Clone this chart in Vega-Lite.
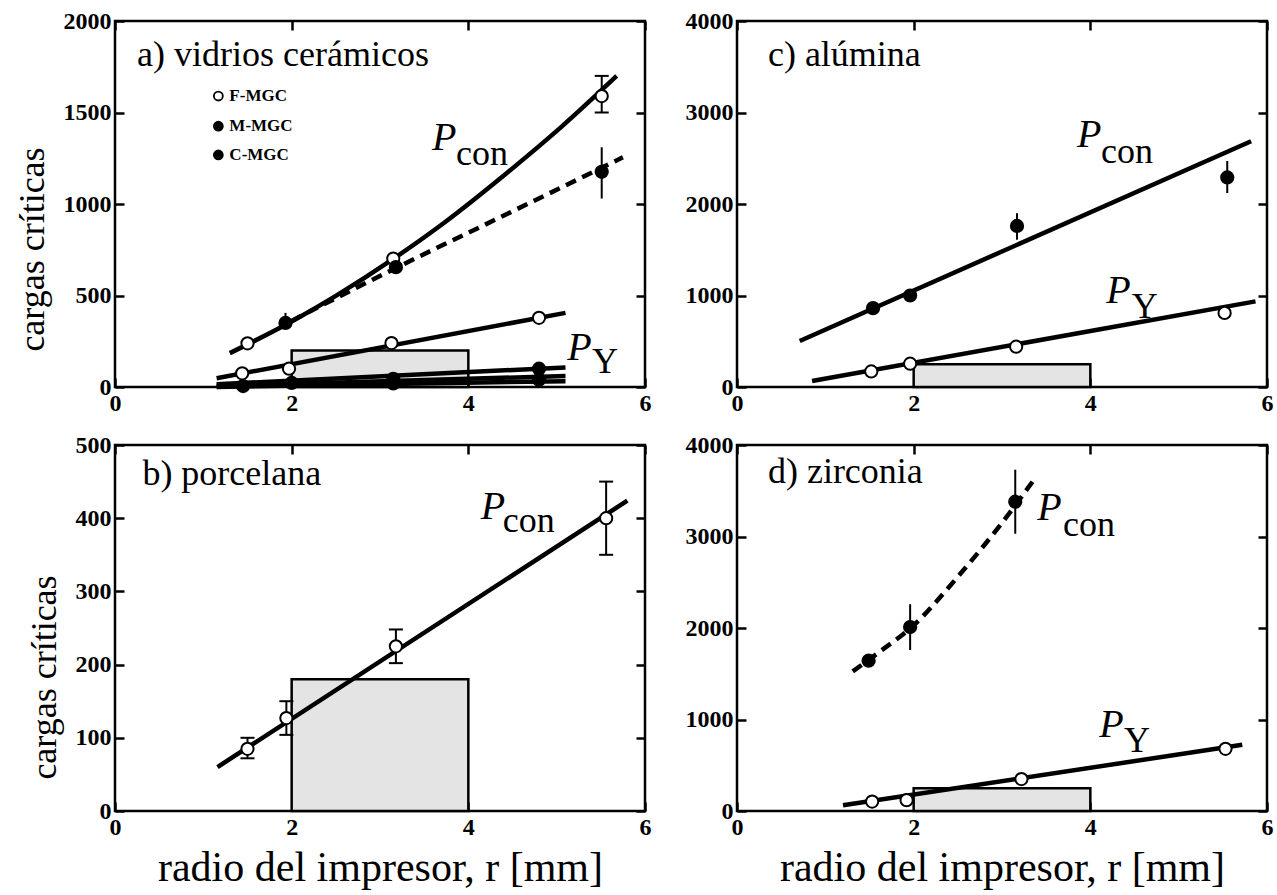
{
  "$schema": "https://vega.github.io/schema/vega-lite/v6.json",
  "background": "white",
  "padding": {"left": 12, "top": 7, "right": 3, "bottom": 3},
  "config": {
    "font": "Liberation Serif",
    "view": {"stroke": "black", "strokeWidth": 2.5},
    "axis": {
      "domain": false,
      "grid": false,
      "ticks": true,
      "tickColor": "black",
      "tickWidth": 2.5,
      "tickSize": -9,
      "labelFont": "Liberation Serif",
      "labelFontWeight": "bold",
      "labelFontSize": 24,
      "labelColor": "black",
      "labelFlush": false,
      "labelPadding": 13,
      "titleFont": "Liberation Serif",
      "titleFontWeight": "normal",
      "titleFontSize": 36,
      "titleColor": "black"
    }
  },
  "datasets": {
    "cajas": [
      {"panel": "a", "r1": 2, "r2": 4, "p1": 0, "p2": 200},
      {"panel": "b", "r1": 2, "r2": 4, "p1": 0, "p2": 180},
      {"panel": "c", "r1": 2, "r2": 4, "p1": 0, "p2": 250},
      {"panel": "d", "r1": 2, "r2": 4, "p1": 0, "p2": 250}
    ],
    "ajustes": [
      {"panel": "a", "serie": "a1", "r": 1.3, "P": 185},
      {"panel": "a", "serie": "a1", "r": 2.0, "P": 358},
      {"panel": "a", "serie": "a1", "r": 2.5, "P": 498},
      {"panel": "a", "serie": "a1", "r": 3.15, "P": 700},
      {"panel": "a", "serie": "a1", "r": 3.7, "P": 888},
      {"panel": "a", "serie": "a1", "r": 4.45, "P": 1175},
      {"panel": "a", "serie": "a1", "r": 5.05, "P": 1420},
      {"panel": "a", "serie": "a1", "r": 5.68, "P": 1700},
      {"panel": "a", "serie": "a2", "r": 2.0, "P": 362},
      {"panel": "a", "serie": "a2", "r": 3.2, "P": 655},
      {"panel": "a", "serie": "a2", "r": 4.5, "P": 960},
      {"panel": "a", "serie": "a2", "r": 5.75, "P": 1255},
      {"panel": "a", "serie": "a3", "r": 1.15, "P": 48},
      {"panel": "a", "serie": "a3", "r": 5.1, "P": 405},
      {"panel": "a", "serie": "a4", "r": 1.15, "P": 15},
      {"panel": "a", "serie": "a4", "r": 5.1, "P": 107},
      {"panel": "a", "serie": "a5", "r": 1.15, "P": 5},
      {"panel": "a", "serie": "a5", "r": 5.1, "P": 60},
      {"panel": "a", "serie": "a6", "r": 1.15, "P": 0},
      {"panel": "a", "serie": "a6", "r": 5.1, "P": 32},
      {"panel": "b", "serie": "b1", "r": 1.16, "P": 60},
      {"panel": "b", "serie": "b1", "r": 5.8, "P": 424},
      {"panel": "c", "serie": "c1", "r": 0.71, "P": 503},
      {"panel": "c", "serie": "c1", "r": 5.82, "P": 2686},
      {"panel": "c", "serie": "c2", "r": 0.85, "P": 66},
      {"panel": "c", "serie": "c2", "r": 5.87, "P": 936},
      {"panel": "d", "serie": "d1", "r": 1.31, "P": 1526},
      {"panel": "d", "serie": "d1", "r": 1.6, "P": 1730},
      {"panel": "d", "serie": "d1", "r": 2.0, "P": 2030},
      {"panel": "d", "serie": "d1", "r": 2.5, "P": 2560},
      {"panel": "d", "serie": "d1", "r": 3.0, "P": 3150},
      {"panel": "d", "serie": "d1", "r": 3.39, "P": 3658},
      {"panel": "d", "serie": "d2", "r": 1.2, "P": 62},
      {"panel": "d", "serie": "d2", "r": 5.72, "P": 724}
    ],
    "medidas": [
      {"panel": "a", "marca": "abierto", "r": 1.5, "P": 239},
      {"panel": "a", "marca": "abierto", "r": 3.15, "P": 702},
      {"panel": "a", "marca": "abierto", "r": 5.51, "P": 1590, "lo": 1500, "hi": 1700, "tapa": true},
      {"panel": "a", "marca": "lleno", "r": 1.45, "P": 5},
      {"panel": "a", "marca": "lleno", "r": 2.0, "P": 22},
      {"panel": "a", "marca": "lleno", "r": 3.15, "P": 45},
      {"panel": "a", "marca": "lleno", "r": 3.15, "P": 20},
      {"panel": "a", "marca": "lleno", "r": 4.8, "P": 100},
      {"panel": "a", "marca": "lleno", "r": 4.8, "P": 40},
      {"panel": "a", "marca": "abierto", "r": 1.44, "P": 75},
      {"panel": "a", "marca": "abierto", "r": 1.97, "P": 100},
      {"panel": "a", "marca": "abierto", "r": 3.13, "P": 240},
      {"panel": "a", "marca": "abierto", "r": 4.8, "P": 378},
      {"panel": "a", "marca": "lleno", "r": 1.93, "P": 350, "lo": 325, "hi": 405},
      {"panel": "a", "marca": "lleno", "r": 3.18, "P": 655},
      {"panel": "a", "marca": "lleno", "r": 5.51, "P": 1176, "lo": 1030, "hi": 1310},
      {"panel": "b", "marca": "abierto", "r": 1.5, "P": 85, "lo": 72, "hi": 100, "tapa": true},
      {"panel": "b", "marca": "abierto", "r": 1.94, "P": 127, "lo": 104, "hi": 150, "tapa": true},
      {"panel": "b", "marca": "abierto", "r": 3.18, "P": 225, "lo": 202, "hi": 248, "tapa": true},
      {"panel": "b", "marca": "abierto", "r": 5.56, "P": 400, "lo": 350, "hi": 450, "tapa": true},
      {"panel": "c", "marca": "lleno", "r": 1.54, "P": 862},
      {"panel": "c", "marca": "lleno", "r": 1.96, "P": 1000},
      {"panel": "c", "marca": "lleno", "r": 3.17, "P": 1760, "lo": 1610, "hi": 1900},
      {"panel": "c", "marca": "lleno", "r": 5.55, "P": 2290, "lo": 2120, "hi": 2470},
      {"panel": "c", "marca": "abierto", "r": 1.52, "P": 170},
      {"panel": "c", "marca": "abierto", "r": 1.96, "P": 255},
      {"panel": "c", "marca": "abierto", "r": 3.16, "P": 440},
      {"panel": "c", "marca": "abierto", "r": 5.52, "P": 810},
      {"panel": "d", "marca": "lleno", "r": 1.49, "P": 1643},
      {"panel": "d", "marca": "lleno", "r": 1.96, "P": 2010, "lo": 1760, "hi": 2260},
      {"panel": "d", "marca": "lleno", "r": 3.15, "P": 3380, "lo": 3030, "hi": 3730},
      {"panel": "d", "marca": "abierto", "r": 1.53, "P": 103},
      {"panel": "d", "marca": "abierto", "r": 1.92, "P": 118},
      {"panel": "d", "marca": "abierto", "r": 3.22, "P": 349},
      {"panel": "d", "marca": "abierto", "r": 5.53, "P": 680}
    ],
    "etiquetas": [
      {"panel": "a", "parte": "P", "texto": "P", "r": 3.59, "P": 1296},
      {"panel": "a", "parte": "sub", "texto": "con", "r": 3.86, "P": 1213},
      {"panel": "a", "parte": "P", "texto": "P", "r": 5.12, "P": 147},
      {"panel": "a", "parte": "sub", "texto": "Y", "r": 5.4, "P": 74},
      {"panel": "b", "parte": "P", "texto": "P", "r": 4.14, "P": 399},
      {"panel": "b", "parte": "sub", "texto": "con", "r": 4.39, "P": 381},
      {"panel": "c", "parte": "P", "texto": "P", "r": 3.85, "P": 2620},
      {"panel": "c", "parte": "sub", "texto": "con", "r": 4.12, "P": 2450},
      {"panel": "c", "parte": "P", "texto": "P", "r": 4.18, "P": 917},
      {"panel": "c", "parte": "sub", "texto": "Y", "r": 4.47, "P": 752},
      {"panel": "d", "parte": "P", "texto": "P", "r": 3.4, "P": 3180},
      {"panel": "d", "parte": "sub", "texto": "con", "r": 3.69, "P": 3004},
      {"panel": "d", "parte": "P", "texto": "P", "r": 4.1, "P": 809},
      {"panel": "d", "parte": "sub", "texto": "Y", "r": 4.38, "P": 643}
    ],
    "titulos": [
      {"panel": "a", "texto": "a) vidrios cerámicos", "r": 0.25, "P": 1755},
      {"panel": "b", "texto": "b) porcelana", "r": 0.31, "P": 445},
      {"panel": "c", "texto": "c) alúmina", "r": 0.35, "P": 3505},
      {"panel": "d", "texto": "d) zirconia", "r": 0.35, "P": 3585}
    ],
    "leyenda": [
      {"texto": "F-MGC", "marca": "abierto", "r": 1.17, "P": 1590},
      {"texto": "M-MGC", "marca": "lleno", "r": 1.17, "P": 1425},
      {"texto": "C-MGC", "marca": "lleno", "r": 1.17, "P": 1268}
    ]
  },
  "columns": 2,
  "spacing": {"row": 58, "column": 92},
  "bounds": "flush",
  "concat": [
    {
      "width": 530,
      "height": 366,
      "resolve": {"axis": {"x": "independent", "y": "independent"}},
      "layer": [
        {
          "data": {"name": "cajas"},
          "transform": [{"filter": "datum.panel === 'a'"}],
          "mark": {"type": "rect", "fill": "#e4e4e4", "stroke": "black", "strokeWidth": 2.5},
          "encoding": {
            "x": {"field": "r1", "type": "quantitative", "scale": {"domain": [0, 6], "nice": false}, "axis": {"orient": "bottom", "values": [0, 2, 4, 6], "title": null}},
            "x2": {"field": "r2"},
            "y": {"field": "p1", "type": "quantitative", "scale": {"domain": [0, 2000], "nice": false}, "axis": {"orient": "left", "values": [0, 500, 1000, 1500, 2000], "format": "d", "title": "cargas críticas", "titlePadding": 12, "titleY": 228}},
            "y2": {"field": "p2"}
          }
        },
        {
          "data": {"name": "ajustes"},
          "transform": [{"filter": "datum.panel === 'a' && datum.serie !== 'a2'"}],
          "mark": {"type": "line", "stroke": "black", "strokeWidth": 4.5, "interpolate": "monotone"},
          "encoding": {
            "x": {"field": "r", "type": "quantitative", "axis": {"orient": "top", "values": [0, 2, 4, 6], "labels": false, "title": null}},
            "y": {"field": "P", "type": "quantitative", "axis": {"orient": "right", "values": [0, 500, 1000, 1500, 2000], "labels": false, "title": null}},
            "detail": {"field": "serie"}
          }
        },
        {
          "data": {"name": "ajustes"},
          "transform": [{"filter": "datum.serie === 'a2'"}],
          "mark": {"type": "line", "stroke": "black", "strokeWidth": 4.5, "strokeDash": [11, 7], "interpolate": "monotone"},
          "encoding": {
            "x": {"field": "r", "type": "quantitative", "axis": null},
            "y": {"field": "P", "type": "quantitative", "axis": null},
            "detail": {"field": "serie"}
          }
        },
        {
          "data": {"name": "medidas"},
          "transform": [{"filter": "datum.panel === 'a' && isValid(datum.lo)"}],
          "mark": {"type": "rule", "stroke": "black", "strokeWidth": 2},
          "encoding": {
            "x": {"field": "r", "type": "quantitative", "axis": null},
            "y": {"field": "lo", "type": "quantitative", "axis": null},
            "y2": {"field": "hi"}
          }
        },
        {
          "data": {"name": "medidas"},
          "transform": [{"filter": "datum.panel === 'a' && datum.tapa === true"}, {"fold": ["lo", "hi"], "as": ["extremo", "valor"]}],
          "mark": {"type": "tick", "orient": "horizontal", "color": "black", "size": 14, "thickness": 2, "opacity": 1},
          "encoding": {
            "x": {"field": "r", "type": "quantitative", "axis": null},
            "y": {"field": "valor", "type": "quantitative", "axis": null}
          }
        },
        {
          "data": {"name": "medidas"},
          "transform": [{"filter": "datum.panel === 'a'"}],
          "mark": {"type": "point", "shape": "circle", "filled": true, "size": 150, "stroke": "black", "strokeWidth": 2, "opacity": 1},
          "encoding": {
            "x": {"field": "r", "type": "quantitative", "axis": null},
            "y": {"field": "P", "type": "quantitative", "axis": null},
            "fill": {"field": "marca", "type": "nominal", "scale": {"domain": ["abierto", "lleno"], "range": ["white", "black"]}, "legend": null}
          }
        },
        {
          "data": {"name": "leyenda"},
          "mark": {"type": "point", "shape": "circle", "filled": true, "size": 80, "stroke": "black", "strokeWidth": 1.8, "opacity": 1},
          "encoding": {
            "x": {"field": "r", "type": "quantitative", "axis": null},
            "y": {"field": "P", "type": "quantitative", "axis": null},
            "fill": {"field": "marca", "type": "nominal", "legend": null}
          }
        },
        {
          "data": {"name": "leyenda"},
          "mark": {"type": "text", "font": "Liberation Serif", "fontWeight": "bold", "fontSize": 17, "align": "left", "baseline": "middle", "dx": 11, "color": "black"},
          "encoding": {
            "x": {"field": "r", "type": "quantitative", "axis": null},
            "y": {"field": "P", "type": "quantitative", "axis": null},
            "text": {"field": "texto"}
          }
        },
        {
          "data": {"name": "titulos"},
          "transform": [{"filter": "datum.panel === 'a'"}],
          "mark": {"type": "text", "font": "Liberation Serif", "fontSize": 36, "align": "left", "baseline": "alphabetic", "color": "black"},
          "encoding": {
            "x": {"field": "r", "type": "quantitative", "axis": null},
            "y": {"field": "P", "type": "quantitative", "axis": null},
            "text": {"field": "texto"}
          }
        },
        {
          "data": {"name": "etiquetas"},
          "transform": [{"filter": "datum.panel === 'a' && datum.parte === 'P'"}],
          "mark": {"type": "text", "font": "Liberation Serif", "fontStyle": "italic", "fontSize": 40, "align": "left", "baseline": "alphabetic", "color": "black"},
          "encoding": {
            "x": {"field": "r", "type": "quantitative", "axis": null},
            "y": {"field": "P", "type": "quantitative", "axis": null},
            "text": {"field": "texto"}
          }
        },
        {
          "data": {"name": "etiquetas"},
          "transform": [{"filter": "datum.panel === 'a' && datum.parte === 'sub'"}],
          "mark": {"type": "text", "font": "Liberation Serif", "fontSize": 36, "align": "left", "baseline": "alphabetic", "color": "black"},
          "encoding": {
            "x": {"field": "r", "type": "quantitative", "axis": null},
            "y": {"field": "P", "type": "quantitative", "axis": null},
            "text": {"field": "texto"}
          }
        }
      ]
    },
    {
      "width": 530,
      "height": 366,
      "resolve": {"axis": {"x": "independent", "y": "independent"}},
      "layer": [
        {
          "data": {"name": "cajas"},
          "transform": [{"filter": "datum.panel === 'c'"}],
          "mark": {"type": "rect", "fill": "#e4e4e4", "stroke": "black", "strokeWidth": 2.5},
          "encoding": {
            "x": {"field": "r1", "type": "quantitative", "scale": {"domain": [0, 6], "nice": false}, "axis": {"orient": "bottom", "values": [0, 2, 4, 6], "title": null}},
            "x2": {"field": "r2"},
            "y": {"field": "p1", "type": "quantitative", "scale": {"domain": [0, 4000], "nice": false}, "axis": {"orient": "left", "values": [0, 1000, 2000, 3000, 4000], "format": "d", "title": null}},
            "y2": {"field": "p2"}
          }
        },
        {
          "data": {"name": "ajustes"},
          "transform": [{"filter": "datum.panel === 'c'"}],
          "mark": {"type": "line", "stroke": "black", "strokeWidth": 4.5},
          "encoding": {
            "x": {"field": "r", "type": "quantitative", "axis": {"orient": "top", "values": [0, 2, 4, 6], "labels": false, "title": null}},
            "y": {"field": "P", "type": "quantitative", "axis": {"orient": "right", "values": [0, 1000, 2000, 3000, 4000], "labels": false, "title": null}},
            "detail": {"field": "serie"}
          }
        },
        {
          "data": {"name": "medidas"},
          "transform": [{"filter": "datum.panel === 'c' && isValid(datum.lo)"}],
          "mark": {"type": "rule", "stroke": "black", "strokeWidth": 2},
          "encoding": {
            "x": {"field": "r", "type": "quantitative", "axis": null},
            "y": {"field": "lo", "type": "quantitative", "axis": null},
            "y2": {"field": "hi"}
          }
        },
        {
          "data": {"name": "medidas"},
          "transform": [{"filter": "datum.panel === 'c'"}],
          "mark": {"type": "point", "shape": "circle", "filled": true, "size": 150, "stroke": "black", "strokeWidth": 2, "opacity": 1},
          "encoding": {
            "x": {"field": "r", "type": "quantitative", "axis": null},
            "y": {"field": "P", "type": "quantitative", "axis": null},
            "fill": {"field": "marca", "type": "nominal", "legend": null}
          }
        },
        {
          "data": {"name": "titulos"},
          "transform": [{"filter": "datum.panel === 'c'"}],
          "mark": {"type": "text", "font": "Liberation Serif", "fontSize": 36, "align": "left", "baseline": "alphabetic", "color": "black"},
          "encoding": {
            "x": {"field": "r", "type": "quantitative", "axis": null},
            "y": {"field": "P", "type": "quantitative", "axis": null},
            "text": {"field": "texto"}
          }
        },
        {
          "data": {"name": "etiquetas"},
          "transform": [{"filter": "datum.panel === 'c' && datum.parte === 'P'"}],
          "mark": {"type": "text", "font": "Liberation Serif", "fontStyle": "italic", "fontSize": 40, "align": "left", "baseline": "alphabetic", "color": "black"},
          "encoding": {
            "x": {"field": "r", "type": "quantitative", "axis": null},
            "y": {"field": "P", "type": "quantitative", "axis": null},
            "text": {"field": "texto"}
          }
        },
        {
          "data": {"name": "etiquetas"},
          "transform": [{"filter": "datum.panel === 'c' && datum.parte === 'sub'"}],
          "mark": {"type": "text", "font": "Liberation Serif", "fontSize": 36, "align": "left", "baseline": "alphabetic", "color": "black"},
          "encoding": {
            "x": {"field": "r", "type": "quantitative", "axis": null},
            "y": {"field": "P", "type": "quantitative", "axis": null},
            "text": {"field": "texto"}
          }
        }
      ]
    },
    {
      "width": 530,
      "height": 366,
      "resolve": {"axis": {"x": "independent", "y": "independent"}},
      "layer": [
        {
          "data": {"name": "cajas"},
          "transform": [{"filter": "datum.panel === 'b'"}],
          "mark": {"type": "rect", "fill": "#e4e4e4", "stroke": "black", "strokeWidth": 2.5},
          "encoding": {
            "x": {"field": "r1", "type": "quantitative", "scale": {"domain": [0, 6], "nice": false}, "axis": {"orient": "bottom", "values": [0, 2, 4, 6], "title": "radio del impresor, r [mm]", "titlePadding": 8, "titleFontSize": 42}},
            "x2": {"field": "r2"},
            "y": {"field": "p1", "type": "quantitative", "scale": {"domain": [0, 500], "nice": false}, "axis": {"orient": "left", "values": [0, 100, 200, 300, 400, 500], "format": "d", "title": "cargas críticas", "titlePadding": 12, "titleY": 232}},
            "y2": {"field": "p2"}
          }
        },
        {
          "data": {"name": "ajustes"},
          "transform": [{"filter": "datum.panel === 'b'"}],
          "mark": {"type": "line", "stroke": "black", "strokeWidth": 4.5},
          "encoding": {
            "x": {"field": "r", "type": "quantitative", "axis": {"orient": "top", "values": [0, 2, 4, 6], "labels": false, "title": null}},
            "y": {"field": "P", "type": "quantitative", "axis": {"orient": "right", "values": [0, 100, 200, 300, 400, 500], "labels": false, "title": null}},
            "detail": {"field": "serie"}
          }
        },
        {
          "data": {"name": "medidas"},
          "transform": [{"filter": "datum.panel === 'b' && isValid(datum.lo)"}],
          "mark": {"type": "rule", "stroke": "black", "strokeWidth": 2},
          "encoding": {
            "x": {"field": "r", "type": "quantitative", "axis": null},
            "y": {"field": "lo", "type": "quantitative", "axis": null},
            "y2": {"field": "hi"}
          }
        },
        {
          "data": {"name": "medidas"},
          "transform": [{"filter": "datum.panel === 'b' && datum.tapa === true"}, {"fold": ["lo", "hi"], "as": ["extremo", "valor"]}],
          "mark": {"type": "tick", "orient": "horizontal", "color": "black", "size": 14, "thickness": 2, "opacity": 1},
          "encoding": {
            "x": {"field": "r", "type": "quantitative", "axis": null},
            "y": {"field": "valor", "type": "quantitative", "axis": null}
          }
        },
        {
          "data": {"name": "medidas"},
          "transform": [{"filter": "datum.panel === 'b'"}],
          "mark": {"type": "point", "shape": "circle", "filled": true, "size": 150, "stroke": "black", "strokeWidth": 2, "opacity": 1},
          "encoding": {
            "x": {"field": "r", "type": "quantitative", "axis": null},
            "y": {"field": "P", "type": "quantitative", "axis": null},
            "fill": {"field": "marca", "type": "nominal", "legend": null}
          }
        },
        {
          "data": {"name": "titulos"},
          "transform": [{"filter": "datum.panel === 'b'"}],
          "mark": {"type": "text", "font": "Liberation Serif", "fontSize": 36, "align": "left", "baseline": "alphabetic", "color": "black"},
          "encoding": {
            "x": {"field": "r", "type": "quantitative", "axis": null},
            "y": {"field": "P", "type": "quantitative", "axis": null},
            "text": {"field": "texto"}
          }
        },
        {
          "data": {"name": "etiquetas"},
          "transform": [{"filter": "datum.panel === 'b' && datum.parte === 'P'"}],
          "mark": {"type": "text", "font": "Liberation Serif", "fontStyle": "italic", "fontSize": 40, "align": "left", "baseline": "alphabetic", "color": "black"},
          "encoding": {
            "x": {"field": "r", "type": "quantitative", "axis": null},
            "y": {"field": "P", "type": "quantitative", "axis": null},
            "text": {"field": "texto"}
          }
        },
        {
          "data": {"name": "etiquetas"},
          "transform": [{"filter": "datum.panel === 'b' && datum.parte === 'sub'"}],
          "mark": {"type": "text", "font": "Liberation Serif", "fontSize": 36, "align": "left", "baseline": "alphabetic", "color": "black"},
          "encoding": {
            "x": {"field": "r", "type": "quantitative", "axis": null},
            "y": {"field": "P", "type": "quantitative", "axis": null},
            "text": {"field": "texto"}
          }
        }
      ]
    },
    {
      "width": 530,
      "height": 366,
      "resolve": {"axis": {"x": "independent", "y": "independent"}},
      "layer": [
        {
          "data": {"name": "cajas"},
          "transform": [{"filter": "datum.panel === 'd'"}],
          "mark": {"type": "rect", "fill": "#e4e4e4", "stroke": "black", "strokeWidth": 2.5},
          "encoding": {
            "x": {"field": "r1", "type": "quantitative", "scale": {"domain": [0, 6], "nice": false}, "axis": {"orient": "bottom", "values": [0, 2, 4, 6], "title": "radio del impresor, r [mm]", "titlePadding": 8, "titleFontSize": 42}},
            "x2": {"field": "r2"},
            "y": {"field": "p1", "type": "quantitative", "scale": {"domain": [0, 4000], "nice": false}, "axis": {"orient": "left", "values": [0, 1000, 2000, 3000, 4000], "format": "d", "title": null}},
            "y2": {"field": "p2"}
          }
        },
        {
          "data": {"name": "ajustes"},
          "transform": [{"filter": "datum.serie === 'd2'"}],
          "mark": {"type": "line", "stroke": "black", "strokeWidth": 4.5},
          "encoding": {
            "x": {"field": "r", "type": "quantitative", "axis": {"orient": "top", "values": [0, 2, 4, 6], "labels": false, "title": null}},
            "y": {"field": "P", "type": "quantitative", "axis": {"orient": "right", "values": [0, 1000, 2000, 3000, 4000], "labels": false, "title": null}},
            "detail": {"field": "serie"}
          }
        },
        {
          "data": {"name": "ajustes"},
          "transform": [{"filter": "datum.serie === 'd1'"}],
          "mark": {"type": "line", "stroke": "black", "strokeWidth": 4.5, "strokeDash": [11, 7], "interpolate": "monotone"},
          "encoding": {
            "x": {"field": "r", "type": "quantitative", "axis": null},
            "y": {"field": "P", "type": "quantitative", "axis": null},
            "detail": {"field": "serie"}
          }
        },
        {
          "data": {"name": "medidas"},
          "transform": [{"filter": "datum.panel === 'd' && isValid(datum.lo)"}],
          "mark": {"type": "rule", "stroke": "black", "strokeWidth": 2},
          "encoding": {
            "x": {"field": "r", "type": "quantitative", "axis": null},
            "y": {"field": "lo", "type": "quantitative", "axis": null},
            "y2": {"field": "hi"}
          }
        },
        {
          "data": {"name": "medidas"},
          "transform": [{"filter": "datum.panel === 'd'"}],
          "mark": {"type": "point", "shape": "circle", "filled": true, "size": 150, "stroke": "black", "strokeWidth": 2, "opacity": 1},
          "encoding": {
            "x": {"field": "r", "type": "quantitative", "axis": null},
            "y": {"field": "P", "type": "quantitative", "axis": null},
            "fill": {"field": "marca", "type": "nominal", "legend": null}
          }
        },
        {
          "data": {"name": "titulos"},
          "transform": [{"filter": "datum.panel === 'd'"}],
          "mark": {"type": "text", "font": "Liberation Serif", "fontSize": 36, "align": "left", "baseline": "alphabetic", "color": "black"},
          "encoding": {
            "x": {"field": "r", "type": "quantitative", "axis": null},
            "y": {"field": "P", "type": "quantitative", "axis": null},
            "text": {"field": "texto"}
          }
        },
        {
          "data": {"name": "etiquetas"},
          "transform": [{"filter": "datum.panel === 'd' && datum.parte === 'P'"}],
          "mark": {"type": "text", "font": "Liberation Serif", "fontStyle": "italic", "fontSize": 40, "align": "left", "baseline": "alphabetic", "color": "black"},
          "encoding": {
            "x": {"field": "r", "type": "quantitative", "axis": null},
            "y": {"field": "P", "type": "quantitative", "axis": null},
            "text": {"field": "texto"}
          }
        },
        {
          "data": {"name": "etiquetas"},
          "transform": [{"filter": "datum.panel === 'd' && datum.parte === 'sub'"}],
          "mark": {"type": "text", "font": "Liberation Serif", "fontSize": 36, "align": "left", "baseline": "alphabetic", "color": "black"},
          "encoding": {
            "x": {"field": "r", "type": "quantitative", "axis": null},
            "y": {"field": "P", "type": "quantitative", "axis": null},
            "text": {"field": "texto"}
          }
        }
      ]
    }
  ]
}
